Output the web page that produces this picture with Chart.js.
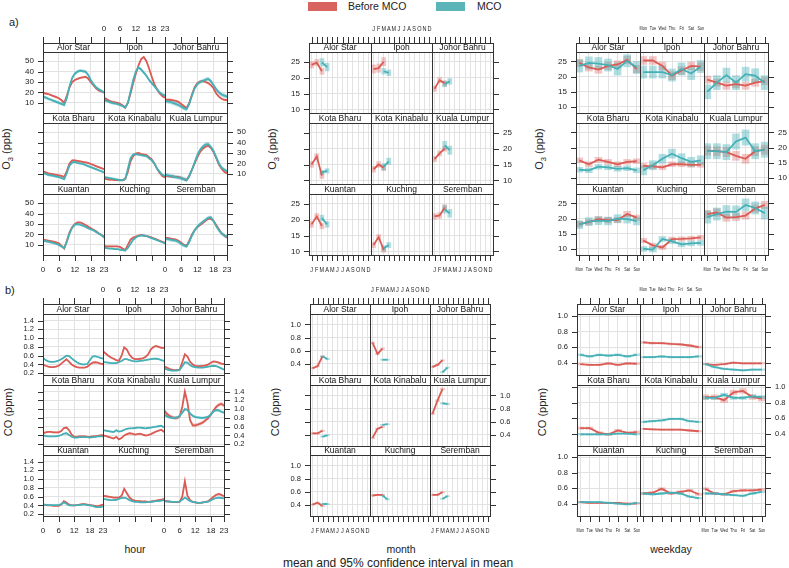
<!DOCTYPE html>
<html lang="en">
<head>
<meta charset="UTF-8">
<title>O3 and CO time variation, Before MCO vs MCO</title>
<script src="https://cdn.jsdelivr.net/npm/chart.js@4.4.2/dist/chart.umd.min.js"></script>
<style>
  body { margin: 0; background: #fff; font-family: "Liberation Sans", Arial, sans-serif; }
  #page { position: relative; width: 789px; height: 568px; overflow: hidden; background: #fff; }
  .cell { position: absolute; }
  .txt { position: absolute; white-space: nowrap; color: #222; line-height: 1; }
  .ytitle { transform: translate(-50%, -50%) rotate(-90deg); font-size: 11px; }
  .ctr { transform: translate(-50%, -50%); }
  .key { position: absolute; height: 9px; width: 29px; }
</style>
</head>
<body>
<div id="page">
  <div class="key" style="left:308px; top:2px; background:#d9645f;"></div>
  <div class="txt" style="left:348px; top:1px; font-size:10.5px;">Before MCO</div>
  <div class="key" style="left:436px; top:2px; background:#5bb4b8;"></div>
  <div class="txt" style="left:477px; top:1px; font-size:10.5px;">MCO</div>

  <div class="txt" style="left:9px; top:17px; font-size:11px;">a)</div>
  <div class="txt" style="left:5px; top:285px; font-size:11px;">b)</div>

  <div class="txt ytitle" style="left:8px; top:149px;">O<sub style="font-size:7.5px">3</sub> (ppb)</div>
  <div class="txt ytitle" style="left:274px; top:149px;">O<sub style="font-size:7.5px">3</sub> (ppb)</div>
  <div class="txt ytitle" style="left:541px; top:149px;">O<sub style="font-size:7.5px">3</sub> (ppb)</div>
  <div class="txt ytitle" style="left:8px; top:412px;">CO (ppm)</div>
  <div class="txt ytitle" style="left:275px; top:412px;">CO (ppm)</div>
  <div class="txt ytitle" style="left:542px; top:412px;">CO (ppm)</div>

  <div class="txt ctr" style="left:135px; top:549px; font-size:10.5px;">hour</div>
  <div class="txt ctr" style="left:401px; top:549px; font-size:10.5px;">month</div>
  <div class="txt ctr" style="left:671px; top:549px; font-size:10.5px;">weekday</div>
  <div class="txt ctr" style="left:398px; top:563px; font-size:12px;">mean and 95% confidence interval in mean</div>
</div>

<script>
// --- Data ---
const sites = ['Alor Star', 'Ipoh', 'Johor Bahru', 'Kota Bharu', 'Kota Kinabalu', 'Kuala Lumpur', 'Kuantan', 'Kuching', 'Seremban'];

const hours = [0, 1, 2, 3, 4, 5, 6, 7, 8, 9, 10, 11, 12, 13, 14, 15, 16, 17, 18, 19, 20, 21, 22, 23];
const hourTicks = [0, 6, 12, 18, 23];
const monthTicks = [1, 2, 3, 4, 5, 6, 7, 8, 9, 10, 11, 12];
const monthLabels = ['J', 'F', 'M', 'A', 'M', 'J', 'J', 'A', 'S', 'O', 'N', 'D'];
const weekdayTicks = [1, 2, 3, 4, 5, 6, 7];
const weekdayLabels = ['Mon', 'Tue', 'Wed', 'Thu', 'Fri', 'Sat', 'Sun'];
const monthsBefore = [1, 2, 3];
const monthsMco = [3, 4];

// O3 (ppb) by hour
const o3HourBefore = [
  [19.5, 19, 18.5, 17.5, 16.5, 15.5, 14.5, 12.5, 10, 17, 25, 30, 32, 33, 34, 34.5, 35, 33.5, 30, 27, 24, 22, 21, 20],
  [15, 13.5, 12, 11, 10.5, 10, 9, 7.5, 5.5, 10, 19, 29, 38, 46, 52, 54, 50, 43, 35, 28, 23, 19, 16.5, 15],
  [13, 13, 13, 12.5, 12, 11, 9, 7, 5, 10, 18, 25, 29, 30.5, 31, 30, 29, 27, 24, 19, 16, 14, 13, 12.5],
  [12.5, 11.5, 10.5, 10, 9.5, 9, 8.5, 8, 7, 13, 20, 23, 23, 22.5, 22, 21.5, 21, 20.5, 19.5, 18.5, 17.5, 16.5, 15.5, 14.5],
  [5.5, 5, 4.5, 4.5, 4, 4, 4, 4, 5, 12, 22, 27, 29.5, 30, 29, 28.5, 28, 26, 24, 20, 15, 11, 8, 6.5],
  [8, 8, 7.5, 7.5, 7, 7, 6, 5, 4, 8, 14, 20, 26, 31, 34, 36, 37, 35, 31, 25, 19, 15, 12, 10.5],
  [15, 14.5, 14, 13.5, 13, 12.5, 11.5, 9, 6.5, 14, 22, 27, 30, 31.5, 31.5, 30.5, 29, 27.5, 26, 24.5, 23, 21, 19.5, 18],
  [9, 8.5, 8.5, 8.5, 8.5, 8.5, 8, 6.5, 5, 10, 15, 17, 18, 19, 19.5, 19, 18.5, 18, 17, 16, 15, 14, 13, 12],
  [17, 16.5, 16, 15.5, 15, 14, 12, 10, 9, 14, 20, 24, 27, 29, 31, 33, 35, 35, 33, 29, 25, 21, 19, 17]
];
const o3HourMco = [
  [16, 15, 14, 13, 12, 11, 10, 9, 8, 15, 26, 34, 38, 40, 41, 40.5, 40, 37, 32, 28, 25, 23, 21.5, 20],
  [13, 12, 11, 10, 9.5, 9, 8, 7, 5.5, 10, 21, 32, 40, 44, 42, 39, 36, 32, 29, 26, 23, 20, 18, 17],
  [12, 11.5, 11, 10, 9, 8, 6.5, 5, 4, 9, 17, 24, 28, 30, 31, 32, 33, 31, 27, 23, 20, 18, 17, 16],
  [11, 10, 9, 8.5, 8, 7.5, 7, 6, 5, 11, 18, 21, 21.5, 20.5, 20, 19.5, 18.5, 17.5, 16.5, 15.5, 14.5, 13.5, 12.5, 11.5],
  [7, 6.5, 6, 5.5, 5, 4.5, 4, 4, 5, 15, 25, 28.5, 29, 28.5, 28, 27.5, 27, 25, 23, 20, 15, 12, 9, 8],
  [9, 8.5, 8, 7.5, 7, 6.5, 6, 5, 4, 8, 14, 21, 28, 33, 36, 38, 38.5, 36, 32, 26, 20, 16, 14, 12.5],
  [14, 13.5, 13, 12.5, 12, 11, 10, 8.5, 7, 13, 21, 26.5, 29.5, 30, 29.5, 28.5, 27.5, 26, 25, 24, 22.5, 21, 19.5, 17],
  [7.5, 7, 6.5, 6.5, 6, 6, 5.5, 5, 4.5, 7, 11, 15, 17, 18.5, 19, 19, 18.5, 17.5, 16.5, 15.5, 14.5, 13.5, 12.5, 11.5],
  [16, 15.5, 15, 14.5, 14, 13, 11, 9.5, 8.5, 13, 19, 24, 27.5, 30, 32, 34, 36, 36.5, 33, 28, 24, 21, 19, 18]
];
const o3HourCiBefore = [1.0, 1.3, 1.0, 0.9, 1.0, 1.2, 0.8, 0.7, 1.0];
const o3HourCiMco = [1.5, 1.5, 2.0, 1.2, 1.2, 2.0, 1.2, 0.8, 1.8];

// O3 (ppb) by month
const o3MonthBefore = [
  [24, 24.7, 22], [22.7, 23, 25], [16.5, 19.2, 18.2],
  [15, 17.5, 11.5], [13.5, 15, 14], [16.7, 18.5, 20],
  [18.5, 21, 18], [12, 14.5, 10.5], [21, 21.3, 23.8]
];
const o3MonthMco = [
  [24.8, 23.3], [22, 21.5], [18, 18.8],
  [12.5, 13], [14.3, 16], [21, 19.5],
  [20.5, 18.5], [11, 12], [23.2, 22]
];
const o3MonthCiBefore = [1.0, 1.3, 0.8, 0.9, 0.9, 0.8, 0.9, 0.8, 0.9];
const o3MonthCiMco = [1.2, 0.9, 0.9, 0.7, 1.0, 1.3, 0.9, 0.8, 1.2];

// O3 (ppb) by weekday
const o3WeekBefore = [
  [24.5, 23, 22.3, 23.5, 24, 25.5, 22.5],
  [25.3, 25.3, 23.5, 20.3, 22, 23.5, 23.3],
  [19, 18, 17, 17.5, 17, 18, 18.5],
  [15.8, 14.5, 16, 15.3, 14.5, 15.3, 15.5],
  [14, 13.8, 13.5, 14.5, 14.5, 14.3, 14.3],
  [19, 18.8, 18.5, 17.3, 16.3, 18.8, 19.3],
  [18.2, 18.8, 19.8, 19.5, 19.5, 21.5, 20.3],
  [12.8, 11.2, 10.5, 13.2, 13.3, 13.5, 13.8],
  [21.5, 22, 20.3, 20.5, 21, 23.3, 24.5]
];
const o3WeekMco = [
  [23.5, 24.5, 24.3, 23.8, 22.5, 25.2, 23],
  [21.5, 21.5, 21.5, 20.5, 22.5, 21, 23.3],
  [15, 18, 20.5, 18, 20.8, 20.3, 18],
  [12.7, 12.5, 13.7, 13.5, 13, 13.2, 12.5],
  [12.5, 14.2, 16.3, 18, 16.5, 15.3, 15.8],
  [18.8, 18.8, 18.5, 22, 23.3, 18.8, 19.3],
  [18, 19, 19.3, 19.2, 20, 19.8, 19.2],
  [10, 9.8, 13.3, 12.5, 11.5, 11.8, 12],
  [20.5, 21.5, 22.3, 22.2, 24.5, 23.5, 21.8]
];
const o3WeekCiBefore = [1.2, 1.3, 1.2, 0.8, 0.8, 1.5, 0.9, 0.7, 1.2];
const o3WeekCiMco = [2.0, 2.0, 2.3, 0.8, 1.5, 2.5, 1.3, 0.8, 2.0];

// CO (ppm) by hour
const coHourBefore = [
  [0.40, 0.37, 0.35, 0.34, 0.34, 0.35, 0.37, 0.42, 0.47, 0.52, 0.46, 0.40, 0.36, 0.34, 0.33, 0.33, 0.33, 0.35, 0.40, 0.44, 0.45, 0.44, 0.42, 0.41],
  [0.70, 0.65, 0.60, 0.56, 0.53, 0.50, 0.48, 0.60, 0.79, 0.74, 0.62, 0.55, 0.52, 0.52, 0.53, 0.54, 0.57, 0.63, 0.74, 0.80, 0.82, 0.80, 0.78, 0.78],
  [0.36, 0.33, 0.30, 0.28, 0.27, 0.27, 0.28, 0.45, 0.63, 0.58, 0.46, 0.40, 0.37, 0.36, 0.36, 0.37, 0.38, 0.40, 0.44, 0.47, 0.46, 0.44, 0.42, 0.41],
  [0.45, 0.47, 0.48, 0.48, 0.47, 0.47, 0.47, 0.50, 0.57, 0.58, 0.52, 0.42, 0.37, 0.37, 0.38, 0.38, 0.38, 0.37, 0.37, 0.38, 0.38, 0.39, 0.40, 0.41],
  [0.40, 0.39, 0.37, 0.35, 0.33, 0.37, 0.31, 0.34, 0.40, 0.43, 0.45, 0.44, 0.42, 0.43, 0.44, 0.42, 0.40, 0.41, 0.43, 0.46, 0.49, 0.51, 0.53, 0.48],
  [0.98, 0.90, 0.85, 0.82, 0.80, 0.80, 0.83, 1.05, 1.40, 1.15, 0.75, 0.63, 0.63, 0.65, 0.67, 0.70, 0.75, 0.80, 0.88, 0.97, 1.05, 1.10, 1.12, 1.08],
  [0.42, 0.41, 0.40, 0.40, 0.39, 0.39, 0.39, 0.42, 0.50, 0.47, 0.42, 0.40, 0.40, 0.41, 0.42, 0.43, 0.43, 0.42, 0.41, 0.40, 0.39, 0.38, 0.40, 0.42],
  [0.62, 0.61, 0.60, 0.59, 0.58, 0.58, 0.58, 0.62, 0.78, 0.68, 0.58, 0.53, 0.51, 0.50, 0.50, 0.49, 0.49, 0.48, 0.49, 0.50, 0.51, 0.52, 0.53, 0.55],
  [0.51, 0.50, 0.49, 0.48, 0.48, 0.48, 0.48, 0.60, 0.95, 0.62, 0.52, 0.48, 0.47, 0.46, 0.46, 0.47, 0.48, 0.50, 0.55, 0.60, 0.64, 0.66, 0.64, 0.61]
];
const coHourMco = [
  [0.55, 0.50, 0.47, 0.46, 0.46, 0.47, 0.49, 0.52, 0.56, 0.60, 0.59, 0.54, 0.49, 0.45, 0.42, 0.40, 0.40, 0.41, 0.50, 0.58, 0.59, 0.57, 0.55, 0.53],
  [0.46, 0.45, 0.44, 0.43, 0.43, 0.43, 0.45, 0.48, 0.52, 0.52, 0.50, 0.48, 0.47, 0.47, 0.48, 0.49, 0.50, 0.51, 0.52, 0.53, 0.53, 0.52, 0.50, 0.48],
  [0.31, 0.29, 0.27, 0.26, 0.26, 0.26, 0.28, 0.36, 0.45, 0.44, 0.38, 0.35, 0.34, 0.33, 0.33, 0.33, 0.34, 0.35, 0.36, 0.37, 0.36, 0.34, 0.31, 0.28],
  [0.40, 0.39, 0.38, 0.38, 0.38, 0.38, 0.39, 0.41, 0.44, 0.45, 0.41, 0.37, 0.35, 0.35, 0.36, 0.36, 0.36, 0.36, 0.35, 0.36, 0.37, 0.38, 0.38, 0.38],
  [0.52, 0.51, 0.50, 0.49, 0.48, 0.52, 0.49, 0.50, 0.53, 0.55, 0.56, 0.56, 0.57, 0.58, 0.58, 0.57, 0.56, 0.57, 0.58, 0.59, 0.60, 0.61, 0.62, 0.58],
  [0.88, 0.84, 0.81, 0.80, 0.80, 0.81, 0.84, 0.92, 1.00, 0.98, 0.90, 0.85, 0.82, 0.81, 0.80, 0.80, 0.81, 0.83, 0.88, 0.95, 0.98, 0.97, 0.94, 0.92],
  [0.42, 0.42, 0.41, 0.41, 0.41, 0.41, 0.41, 0.43, 0.47, 0.44, 0.40, 0.40, 0.40, 0.41, 0.41, 0.42, 0.42, 0.41, 0.40, 0.39, 0.37, 0.36, 0.36, 0.38],
  [0.55, 0.54, 0.53, 0.52, 0.52, 0.53, 0.55, 0.57, 0.58, 0.56, 0.52, 0.50, 0.48, 0.48, 0.47, 0.47, 0.47, 0.48, 0.48, 0.49, 0.50, 0.50, 0.51, 0.52],
  [0.50, 0.49, 0.49, 0.48, 0.48, 0.48, 0.49, 0.53, 0.58, 0.54, 0.50, 0.48, 0.47, 0.46, 0.46, 0.47, 0.48, 0.49, 0.52, 0.55, 0.57, 0.58, 0.57, 0.56]
];
const coHourCiBefore = [0.015, 0.02, 0.02, 0.02, 0.015, 0.04, 0.012, 0.02, 0.02];
const coHourCiMco = [0.015, 0.012, 0.012, 0.015, 0.015, 0.03, 0.01, 0.015, 0.012];

// CO (ppm) by month
const coMonthBefore = [
  [0.33, 0.36, 0.51], [0.72, 0.55, 0.63], [0.35, 0.38, 0.45],
  [0.42, 0.42, 0.46], [0.35, 0.49, 0.52], [0.72, 0.92, 1.10],
  [0.40, 0.43, 0.38], [0.54, 0.55, 0.55], [0.55, 0.55, 0.59]
];
const coMonthMco = [
  [0.51, 0.47], [0.46, 0.46], [0.27, 0.34],
  [0.37, 0.39], [0.55, 0.56], [0.88, 0.87],
  [0.41, 0.41], [0.54, 0.48], [0.49, 0.53]
];
const coMonthCiBefore = [0.01, 0.012, 0.01, 0.01, 0.01, 0.015, 0.008, 0.01, 0.01];
const coMonthCiMco = [0.01, 0.008, 0.008, 0.008, 0.008, 0.012, 0.008, 0.008, 0.008];

// CO (ppm) by weekday
const coWeekBefore = [
  [0.38, 0.37, 0.37, 0.39, 0.37, 0.39, 0.385],
  [0.66, 0.65, 0.65, 0.64, 0.635, 0.62, 0.60],
  [0.38, 0.37, 0.38, 0.40, 0.39, 0.39, 0.39],
  [0.47, 0.47, 0.41, 0.39, 0.44, 0.41, 0.42],
  [0.46, 0.455, 0.45, 0.45, 0.45, 0.44, 0.43],
  [0.87, 0.87, 0.83, 0.93, 0.95, 0.87, 0.85],
  [0.42, 0.41, 0.41, 0.41, 0.41, 0.40, 0.40],
  [0.53, 0.54, 0.59, 0.53, 0.55, 0.57, 0.52],
  [0.59, 0.53, 0.52, 0.56, 0.57, 0.57, 0.58]
];
const coWeekMco = [
  [0.50, 0.48, 0.50, 0.49, 0.50, 0.48, 0.50],
  [0.47, 0.47, 0.48, 0.47, 0.47, 0.47, 0.48],
  [0.38, 0.34, 0.32, 0.31, 0.30, 0.31, 0.31],
  [0.39, 0.39, 0.39, 0.39, 0.40, 0.40, 0.39],
  [0.55, 0.56, 0.57, 0.59, 0.59, 0.56, 0.55],
  [0.86, 0.86, 0.90, 0.86, 0.86, 0.88, 0.87],
  [0.42, 0.42, 0.42, 0.41, 0.40, 0.39, 0.41],
  [0.53, 0.52, 0.53, 0.54, 0.53, 0.49, 0.47],
  [0.53, 0.53, 0.52, 0.51, 0.50, 0.53, 0.55]
];
const coWeekCiBefore = [0.01, 0.012, 0.008, 0.015, 0.008, 0.03, 0.008, 0.015, 0.015];
const coWeekCiMco = [0.012, 0.01, 0.008, 0.008, 0.01, 0.02, 0.008, 0.01, 0.01];

// --- Styles and layout ---
const RED = '#db5b55';
const TEAL = '#45b0b6';
const RED_CI = 'rgba(219, 91, 85, 0.35)';
const TEAL_CI = 'rgba(69, 176, 182, 0.42)';
const FRAME = '#333';
const GRID = '#e2e2e2';
const FONT = '"Liberation Sans", Arial, sans-serif';
const ROW_H = 70.65;
const STRIP_H = 9.7;
const M = 34; // canvas margin around each cell

const panels = [
  { x0: 42.7, colW: 61.33, y0: 42.7, xMin: 0, xMax: 23, xs: [hours, hours], xTicks: hourTicks, xLabels: hourTicks.map(String), xFont: 8, xSquash: 1,
    yMin: 0.3, yMax: 58.8, yTicks: [10, 20, 30, 40, 50], yDec: 0, yFont: 8, mark: 'band',
    before: o3HourBefore, mco: o3HourMco, ciBefore: o3HourCiBefore, ciMco: o3HourCiMco },
  { x0: 309.3, colW: 61.33, y0: 42.7, xMin: 0.5, xMax: 12.5, xs: [monthsBefore, monthsMco], xTicks: monthTicks, xLabels: monthLabels, xFont: 6.5, xSquash: 0.85,
    yMin: 8.87, yMax: 28.05, yTicks: [10, 15, 20, 25], yDec: 0, yFont: 8, mark: 'bar', barW: 4,
    before: o3MonthBefore, mco: o3MonthMco, ciBefore: o3MonthCiBefore, ciMco: o3MonthCiMco },
  { x0: 576, colW: 63.9, y0: 42.7, xMin: 0.66, xMax: 7.34, xs: [weekdayTicks, weekdayTicks], xTicks: weekdayTicks, xLabels: weekdayLabels, xFont: 5, xSquash: 0.75,
    yMin: 8.0, yMax: 28.1, yTicks: [10, 15, 20, 25], yDec: 0, yFont: 8, mark: 'bar', barW: 7,
    before: o3WeekBefore, mco: o3WeekMco, ciBefore: o3WeekCiBefore, ciMco: o3WeekCiMco },
  { x0: 43.3, colW: 60.13, y0: 304.3, xMin: 0, xMax: 23, xs: [hours, hours], xTicks: hourTicks, xLabels: hourTicks.map(String), xFont: 8, xSquash: 1,
    yMin: 0.16, yMax: 1.55, yTicks: [0.2, 0.4, 0.6, 0.8, 1.0, 1.2, 1.4], yDec: 1, yFont: 7.5, mark: 'band',
    before: coHourBefore, mco: coHourMco, ciBefore: coHourCiBefore, ciMco: coHourCiMco },
  { x0: 310, colW: 60, y0: 304.3, xMin: 0.5, xMax: 12.5, xs: [monthsBefore, monthsMco], xTicks: monthTicks, xLabels: monthLabels, xFont: 6.5, xSquash: 0.85,
    yMin: 0.226, yMax: 1.16, yTicks: [0.4, 0.6, 0.8, 1.0], yDec: 1, yFont: 7.5, mark: 'bar', barW: 4,
    before: coMonthBefore, mco: coMonthMco, ciBefore: coMonthCiBefore, ciMco: coMonthCiMco },
  { x0: 577, colW: 62.67, y0: 304.3, xMin: 0.66, xMax: 7.34, xs: [weekdayTicks, weekdayTicks], xTicks: weekdayTicks, xLabels: weekdayLabels, xFont: 5, xSquash: 0.75,
    yMin: 0.24, yMax: 1.026, yTicks: [0.4, 0.6, 0.8, 1.0], yDec: 1, yFont: 7.5, mark: 'bar', barW: 7,
    before: coWeekBefore, mco: coWeekMco, ciBefore: coWeekCiBefore, ciMco: coWeekCiMco }
];

// --- Dataset helpers ---
function pts(xs, ys) {
  return xs.map((x, i) => ({ x: x, y: ys[i] }));
}

function lineSet(xs, ys, color, order) {
  return { type: 'line', data: pts(xs, ys), borderColor: color, borderWidth: 1.8, pointRadius: 0, fill: false, tension: 0, order: order };
}

function bandSets(xs, ys, ci, color, order) {
  return [
    { type: 'line', data: xs.map((x, i) => ({ x: x, y: ys[i] - ci })), borderWidth: 0, pointRadius: 0, fill: false, order: order },
    { type: 'line', data: xs.map((x, i) => ({ x: x, y: ys[i] + ci })), borderWidth: 0, pointRadius: 0, fill: '-1', backgroundColor: color, order: order }
  ];
}

function barSet(xs, ys, ci, color, w, order) {
  return { type: 'bar', data: xs.map((x, i) => ({ x: x, y: [ys[i] - ci, ys[i] + ci] })), backgroundColor: color,
           borderWidth: 0, barThickness: w, grouped: false, order: order };
}

// squashed text for the crowded month / weekday labels
function squashText(ctx, text, x, y, sx) {
  ctx.save();
  ctx.translate(x, y);
  ctx.scale(sx, 1);
  ctx.fillText(text, 0, 0);
  ctx.restore();
}

// --- Lattice frame, strips, ticks and labels ---
const latticePlugin = {
  id: 'lattice',
  afterDraw(chart, args, opts) {
    const { ctx, chartArea: a, scales } = chart;
    const p = opts.panel, row = opts.row, col = opts.col;
    const top = a.top - opts.stripH;
    ctx.save();
    ctx.strokeStyle = FRAME;
    ctx.lineWidth = 1;
    // strip
    ctx.fillStyle = '#fff';
    ctx.fillRect(a.left, top, a.right - a.left, opts.stripH);
    ctx.strokeRect(a.left + 0.5, top + 0.5, a.right - a.left, a.bottom - top);
    ctx.beginPath();
    ctx.moveTo(a.left, a.top + 0.5);
    ctx.lineTo(a.right, a.top + 0.5);
    ctx.stroke();
    ctx.fillStyle = '#111';
    ctx.font = '8.5px ' + FONT;
    ctx.textAlign = 'center';
    ctx.textBaseline = 'middle';
    ctx.fillText(opts.site, (a.left + a.right) / 2, top + opts.stripH / 2 + 0.5);

    // x ticks
    ctx.beginPath();
    p.xTicks.forEach(v => {
      const px = Math.round(scales.x.getPixelForValue(v)) + 0.5;
      if (row === 0) { ctx.moveTo(px, top); ctx.lineTo(px, top - 6); }
      if (row === 2) { ctx.moveTo(px, a.bottom + 1); ctx.lineTo(px, a.bottom + 6); }
    });
    // y ticks
    p.yTicks.forEach(v => {
      const py = Math.round(scales.y.getPixelForValue(v)) + 0.5;
      if (col === 0) { ctx.moveTo(a.left, py); ctx.lineTo(a.left - 5, py); }
      if (col === 2) { ctx.moveTo(a.right + 1, py); ctx.lineTo(a.right + 6, py); }
    });
    ctx.stroke();

    ctx.fillStyle = '#222';
    ctx.font = p.xFont + 'px ' + FONT;
    ctx.textAlign = 'center';
    ctx.textBaseline = 'middle';
    if (row === 0 && col === 1) {
      p.xTicks.forEach((v, i) => squashText(ctx, p.xLabels[i], scales.x.getPixelForValue(v), top - 14, p.xSquash));
    }
    if (row === 2 && col !== 1) {
      p.xTicks.forEach((v, i) => squashText(ctx, p.xLabels[i], scales.x.getPixelForValue(v), a.bottom + 15, p.xSquash));
    }
    ctx.font = p.yFont + 'px ' + FONT;
    if (col === 0 && row !== 1) {
      ctx.textAlign = 'right';
      p.yTicks.forEach(v => ctx.fillText(v.toFixed(p.yDec), a.left - 9, scales.y.getPixelForValue(v)));
    }
    if (col === 2 && row === 1) {
      ctx.textAlign = 'left';
      p.yTicks.forEach(v => ctx.fillText(v.toFixed(p.yDec), a.right + 10, scales.y.getPixelForValue(v)));
    }
    ctx.restore();
  }
};

const page = document.getElementById('page');

function makeCell(p, row, col) {
  const s = row * 3 + col;
  const left = Math.round(p.x0 + col * p.colW);
  const right = Math.round(p.x0 + (col + 1) * p.colW);
  const stripTop = Math.round(p.y0 + row * ROW_H);
  const plotTop = Math.round(p.y0 + row * ROW_H + STRIP_H);
  const bottom = Math.round(p.y0 + (row + 1) * ROW_H);

  const box = document.createElement('div');
  box.className = 'cell';
  box.style.left = (left - M) + 'px';
  box.style.top = (stripTop - M) + 'px';
  const cv = document.createElement('canvas');
  cv.width = right - left + 2 * M;
  cv.height = bottom - stripTop + 2 * M;
  cv.style.width = cv.width + 'px';
  cv.style.height = cv.height + 'px';
  box.appendChild(cv);
  page.appendChild(box);

  const datasets = [];
  if (p.mark === 'band') {
    datasets.push(...bandSets(p.xs[0], p.before[s], p.ciBefore[s], RED_CI, 3));
    datasets.push(...bandSets(p.xs[1], p.mco[s], p.ciMco[s], TEAL_CI, 2));
  } else {
    datasets.push(barSet(p.xs[0], p.before[s], p.ciBefore[s], RED_CI, p.barW, 3));
    datasets.push(barSet(p.xs[1], p.mco[s], p.ciMco[s], TEAL_CI, p.barW, 2));
  }
  datasets.push(lineSet(p.xs[0], p.before[s], RED, 1));
  datasets.push(lineSet(p.xs[1], p.mco[s], TEAL, 0));

  new Chart(cv, {
    type: 'line',
    data: { datasets: datasets },
    options: {
      responsive: false,
      animation: false,
      devicePixelRatio: 1,
      events: [],
      layout: { padding: { left: M, right: M, top: M + (plotTop - stripTop), bottom: M } },
      scales: {
        x: {
          type: 'linear', min: p.xMin, max: p.xMax, offset: false,
          afterBuildTicks: sc => { sc.ticks = p.xTicks.map(v => ({ value: v })); },
          afterFit: sc => { sc.height = 0; },
          ticks: { display: false },
          grid: { color: GRID, lineWidth: 1, drawTicks: false, offset: false },
          border: { display: false }
        },
        y: {
          type: 'linear', min: p.yMin, max: p.yMax,
          afterBuildTicks: sc => { sc.ticks = p.yTicks.map(v => ({ value: v })); },
          afterFit: sc => { sc.width = 0; },
          ticks: { display: false },
          grid: { color: GRID, lineWidth: 1, drawTicks: false },
          border: { display: false }
        }
      },
      plugins: {
        legend: { display: false },
        tooltip: { enabled: false },
        lattice: { panel: p, row: row, col: col, site: sites[s], stripH: plotTop - stripTop }
      }
    },
    plugins: [latticePlugin]
  });
}

panels.forEach(p => {
  for (let r = 0; r < 3; r++) {
    for (let c = 0; c < 3; c++) makeCell(p, r, c);
  }
});
</script>
</body>
</html>
